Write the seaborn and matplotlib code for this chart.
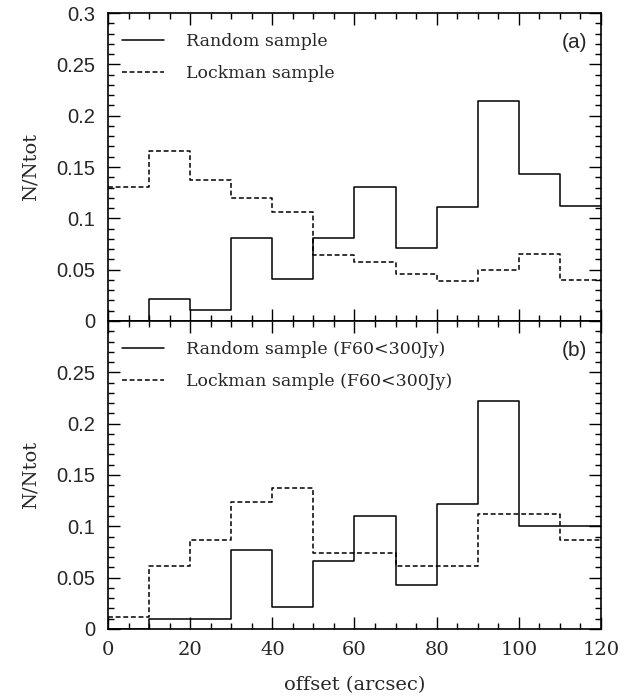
import numpy as np
import pandas as pd
import seaborn as sns
import matplotlib
matplotlib.use("Agg")
import matplotlib.pyplot as plt
from matplotlib.lines import Line2D
from matplotlib.ticker import MultipleLocator

# ---- data ----
bin_edges = [0, 10, 20, 30, 40, 50, 60, 70, 80, 90, 100, 110, 120]
bin_centers = [5, 15, 25, 35, 45, 55, 65, 75, 85, 95, 105, 115]

random_a = [0.0, 0.021, 0.011, 0.081, 0.041, 0.081, 0.131, 0.071, 0.111, 0.214, 0.143, 0.112]
lockman_a = [0.131, 0.166, 0.137, 0.120, 0.106, 0.064, 0.057, 0.046, 0.039, 0.050, 0.065, 0.040]

random_b = [0.0, 0.010, 0.010, 0.077, 0.021, 0.066, 0.110, 0.043, 0.122, 0.222, 0.100, 0.100]
lockman_b = [0.012, 0.061, 0.087, 0.124, 0.137, 0.074, 0.074, 0.061, 0.061, 0.112, 0.112, 0.087]

labels_a = ["Random sample", "Lockman sample"]
labels_b = ["Random sample (F60<300Jy)", "Lockman sample (F60<300Jy)"]
panel_tags = ["(a)", "(b)"]
x_ticks = [0, 20, 40, 60, 80, 100, 120]
y_ticks = [0, 0.05, 0.1, 0.15, 0.2, 0.25, 0.3]

sns.set_style("ticks")
plt.rcParams["font.family"] = ["DejaVu Serif"]

fig = plt.figure(figsize=(6.33, 6.96), dpi=100)
left, width, height = 0.1706, 0.7788, 0.4425
ax_a = fig.add_axes([left, 0.5388, width, height])
ax_b = fig.add_axes([left, 0.0963, width, height])

dash = (0, (3.2, 1.8))
lw = 1.1

def draw(ax, rnd, lock, labels, tag, show_top_label):
    df = pd.DataFrame({"x": bin_centers, "r": rnd, "l": lock})
    sns.histplot(data=df, x="x", weights="r", bins=bin_edges, element="step",
                 fill=False, color="black", linewidth=lw, ax=ax)
    sns.histplot(data=df, x="x", weights="l", bins=bin_edges, element="step",
                 fill=False, color="black", linewidth=lw, linestyle=dash, ax=ax)
    ax.set_xlim(0, 120)
    ax.set_ylim(0, 0.3)
    ax.set_xticks(x_ticks)
    ax.set_yticks(y_ticks)
    ax.xaxis.set_minor_locator(MultipleLocator(5))
    ax.yaxis.set_minor_locator(MultipleLocator(0.01))
    ax.tick_params(which="both", direction="in", top=True, right=True,
                   color="black", width=1.0)
    ax.tick_params(which="major", length=8.5)
    ax.tick_params(which="minor", length=4.3)
    ax.tick_params(axis="y", which="major", pad=9)
    ax.tick_params(axis="x", which="major", pad=9)
    for s in ax.spines.values():
        s.set_visible(True)
        s.set_linewidth(1.2)
        s.set_color("black")
    ylab = ["0", "0.05", "0.1", "0.15", "0.2", "0.25", "0.3" if show_top_label else ""]
    ax.set_yticklabels(ylab, fontfamily="Liberation Sans", fontsize=14.5)
    ax.set_ylabel("N/Ntot", fontsize=14, labelpad=12)
    handles = [Line2D([], [], color="black", lw=lw),
               Line2D([], [], color="black", lw=lw, linestyle=dash)]
    ax.legend(handles, labels, loc="upper left", frameon=False,
              fontsize=12.5, handlelength=2.4, handletextpad=1.3,
              labelspacing=0.85, borderaxespad=0.4,
              bbox_to_anchor=(0.0, 0.98))
    ax.text(0.972, 0.905, tag, transform=ax.transAxes, ha="right", va="center",
            fontsize=15, fontfamily="Liberation Sans")

draw(ax_a, random_a, lockman_a, labels_a, panel_tags[0], True)
draw(ax_b, random_b, lockman_b, labels_b, panel_tags[1], False)

ax_a.set_xticklabels([])
ax_a.set_xlabel("")
ax_b.set_xticklabels([str(v) for v in x_ticks], fontsize=14)
ax_b.set_xlabel("offset (arcsec)", fontsize=14, labelpad=12)

fig.savefig("out.png", dpi=100)
